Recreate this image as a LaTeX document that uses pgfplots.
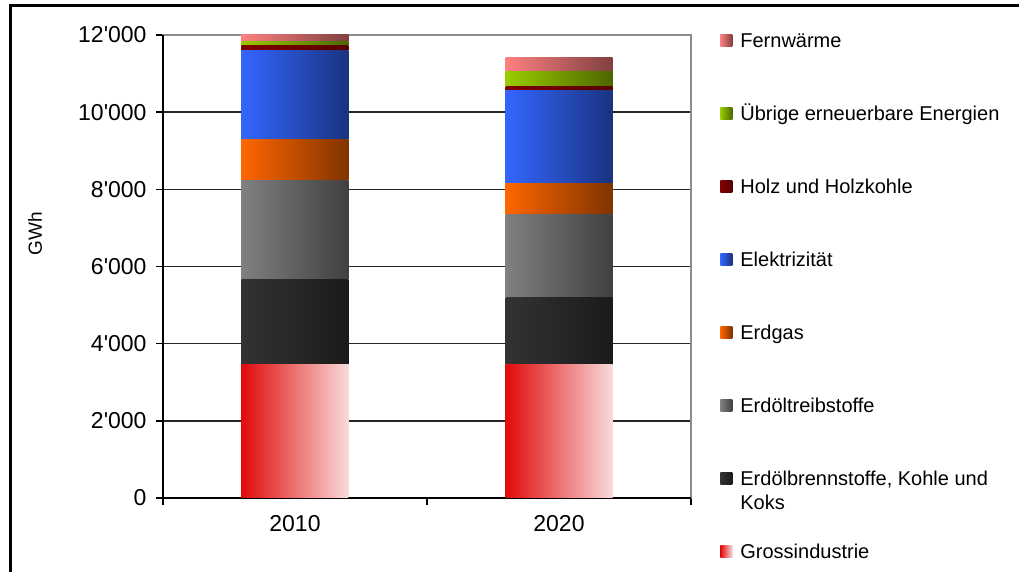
\documentclass[border=0pt]{standalone}
\usepackage{fontspec}
\setmainfont{Liberation Sans}
\usepackage{pgfplots}
\usepackage{pgfplotstable}
\pgfplotsset{compat=1.18}

\definecolor{grossL}{RGB}{224,10,10}
\definecolor{grossR}{RGB}{249,218,218}
\definecolor{brennL}{RGB}{51,51,51}
\definecolor{brennR}{RGB}{26,26,26}
\definecolor{treibL}{RGB}{128,128,128}
\definecolor{treibR}{RGB}{64,64,64}
\definecolor{gasL}{RGB}{255,102,0}
\definecolor{gasR}{RGB}{128,51,0}
\definecolor{elekL}{RGB}{51,102,255}
\definecolor{elekR}{RGB}{26,51,128}
\definecolor{holzL}{RGB}{128,0,0}
\definecolor{holzR}{RGB}{88,0,0}
\definecolor{uebL}{RGB}{153,204,0}
\definecolor{uebR}{RGB}{77,102,0}
\definecolor{fernL}{RGB}{255,128,128}
\definecolor{fernR}{RGB}{128,64,64}

% year 2010
\pgfplotstableread{
x gross brenn treib gas elek holz ueb fern
0 3450 2200 2570 1060 2310 130 120 160
}\dataA
% year 2020
\pgfplotstableread{
x gross brenn treib gas elek holz ueb fern
1 3450 1740 2145 820 2395 105 390 365
}\dataB

\pgfplotsset{
  common/.style={
    at={(81.5pt,37pt)}, anchor=south west,
    scale only axis, width=264pt, height=231.5pt,
    ybar stacked, bar width=53.5pt,
    xmin=-0.5, xmax=1.5, ymin=0, ymax=12000,
  },
  sgross/.style={draw=none, left color=grossL, right color=grossR},
  sbrenn/.style={draw=none, left color=brennL, right color=brennR},
  streib/.style={draw=none, left color=treibL, right color=treibR},
  sgas/.style={draw=none, left color=gasL, right color=gasR},
  selek/.style={draw=none, left color=elekL, right color=elekR},
  sholz/.style={draw=none, left color=holzL, right color=holzR},
  sueb/.style={draw=none, left color=uebL, right color=uebR},
  sfern/.style={draw=none, left color=fernL, right color=fernR},
}

\begin{document}
\begin{tikzpicture}
\useasboundingbox (0,0) rectangle (509.5pt,286pt);
\draw[line width=1.2pt] (5.2pt,283.3pt) rectangle (530pt,-20pt);
\begin{axis}[
  common,
  clip=false,
  ytick={0,2000,...,12000},
  scaled y ticks=false,
  xtick={-0.5,0.5,1.5}, xticklabels={},
  extra x ticks={0,1}, extra x tick labels={2010,2020},
  extra x tick style={major tick length=0pt},
  tick pos=left, tick align=outside, major tick length=3.5pt,
  ymajorgrids, grid style={black!85, line width=0.8pt},
  axis line style={gray!90, line width=0.8pt},
  tick style={black, line width=0.7pt},
  /pgf/number format/assume math mode=true,
  /pgf/number format/1000 sep={\textquotesingle},
  tick label style={font=\fontsize{11.5}{13}\selectfont},
  xticklabel style={yshift=-5pt},
  yticklabel style={xshift=-1.2pt},
  ylabel={GWh},
  ylabel style={font=\fontsize{9.5}{11}\selectfont, at={(axis description cs:-0.2424,0.570)}, anchor=center},
  reverse legend,
  legend cell align=left,
  legend style={at={(axis description cs:1,1)}, anchor=north west, xshift=14.5pt, yshift=2.5pt,
    draw=none, fill=none, inner sep=0pt, row sep=26.5pt, column sep=4pt,
    font=\fontsize{10}{12}\selectfont,
    nodes={inner sep=0pt, text height=8.5pt, text depth=1.5pt}},
  legend image code/.code={\path[#1, draw=none] (0pt,-3pt) rectangle (6pt,3pt);},
]
\addplot[sgross] table[x=x, y=gross] {\dataA};
\addplot[sbrenn] table[x=x, y=brenn] {\dataA};
\addplot[streib] table[x=x, y=treib] {\dataA};
\addplot[sgas] table[x=x, y=gas] {\dataA};
\addplot[selek] table[x=x, y=elek] {\dataA};
\addplot[sholz] table[x=x, y=holz] {\dataA};
\addplot[sueb] table[x=x, y=ueb] {\dataA};
\addplot[sfern] table[x=x, y=fern] {\dataA};
\legend{Grossindustrie,
  {\smash{\begin{tabular}[t]{@{}l@{}}Erdölbrennstoffe, Kohle und\\[0.3pt]Koks\end{tabular}}},
  Erdöltreibstoffe, Erdgas, Elektrizität, Holz und Holzkohle, Übrige erneuerbare Energien, Fernwärme}
\draw[black, line width=0.8pt] (rel axis cs:0,1) -- (rel axis cs:0,0) -- (rel axis cs:1,0);
\end{axis}
\begin{axis}[common, hide axis]
\addplot[sgross] table[x=x, y=gross] {\dataB};
\addplot[sbrenn] table[x=x, y=brenn] {\dataB};
\addplot[streib] table[x=x, y=treib] {\dataB};
\addplot[sgas] table[x=x, y=gas] {\dataB};
\addplot[selek] table[x=x, y=elek] {\dataB};
\addplot[sholz] table[x=x, y=holz] {\dataB};
\addplot[sueb] table[x=x, y=ueb] {\dataB};
\addplot[sfern] table[x=x, y=fern] {\dataB};
\end{axis}
\end{tikzpicture}
\end{document}
